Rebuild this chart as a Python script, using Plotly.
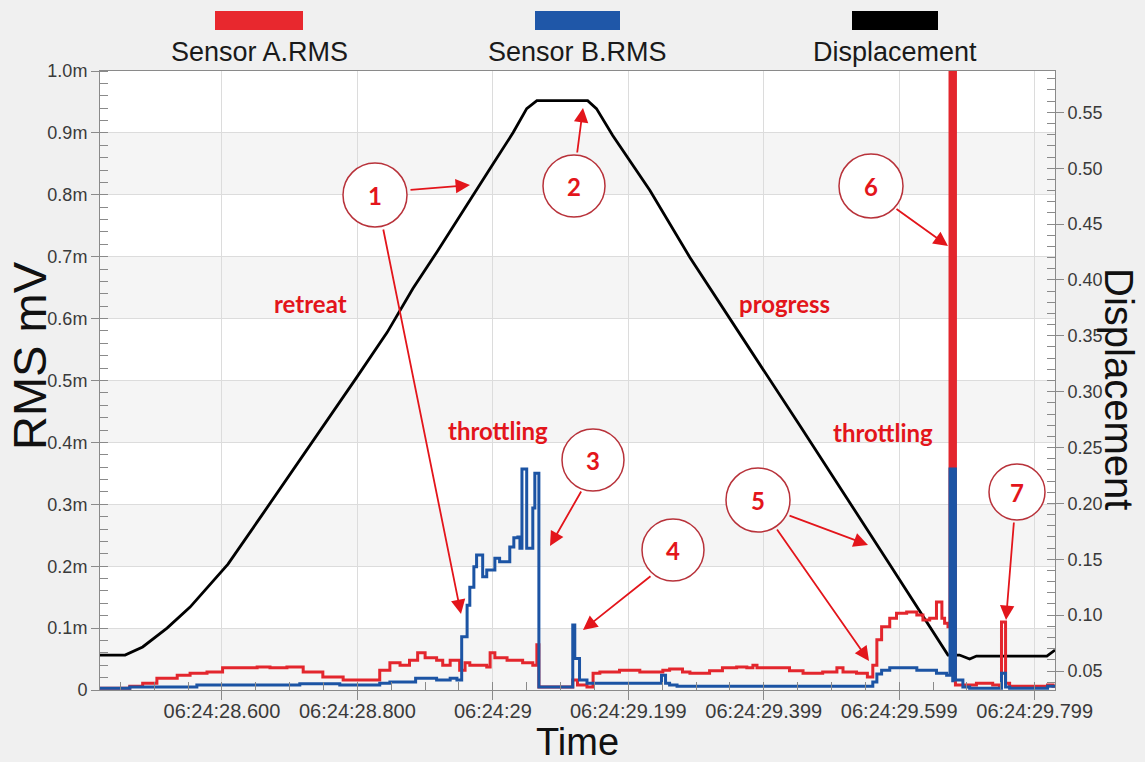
import plotly.graph_objects as go

# ---------------- data ----------------
time_a = [28.420, 28.449, 28.464, 28.483, 28.504, 28.534, 28.553, 28.578, 28.601, 28.627,
          28.652, 28.671, 28.696, 28.720, 28.749, 28.779, 28.829, 28.833, 28.848, 28.863,
          28.877, 28.889, 28.900, 28.917, 28.926, 28.937, 28.951, 28.959, 28.966, 28.991,
          28.996, 29.003, 29.021, 29.035, 29.044, 29.059, 29.065, 29.068, 29.118, 29.125,
          29.139, 29.148, 29.158, 29.187, 29.217, 29.251, 29.261, 29.280, 29.291, 29.320,
          29.339, 29.360, 29.375, 29.384, 29.390, 29.419, 29.438, 29.458, 29.487, 29.508,
          29.517, 29.537, 29.553, 29.561, 29.567, 29.574, 29.586, 29.596, 29.611, 29.626,
          29.635, 29.645, 29.655, 29.663, 29.667, 29.672, 29.675, 29.679, 29.6791, 29.683,
          29.714, 29.738, 29.748, 29.751, 29.757, 29.763, 29.819, 29.827, 29.830]
rms_a = [0.003, 0.003, 0.006, 0.011, 0.019, 0.024, 0.027, 0.029, 0.036, 0.036,
         0.037, 0.036, 0.037, 0.029, 0.021, 0.016, 0.016, 0.032, 0.044, 0.040,
         0.048, 0.060, 0.052, 0.048, 0.040, 0.048, 0.032, 0.044, 0.040, 0.037,
         0.060, 0.052, 0.048, 0.048, 0.044, 0.040, 0.073, 0.005, 0.016, 0.008,
         0.005, 0.027, 0.029, 0.032, 0.029, 0.032, 0.034, 0.029, 0.027, 0.031,
         0.036, 0.037, 0.036, 0.040, 0.036, 0.036, 0.031, 0.027, 0.029, 0.036,
         0.029, 0.027, 0.021, 0.040, 0.081, 0.102, 0.116, 0.124, 0.126, 0.121,
         0.113, 0.116, 0.142, 0.116, 0.108, 0.102, 1.300, 0.360, 1.300, 0.008,
         0.011, 0.008, 0.006, 0.110, 0.011, 0.006, 0.008, 0.006, 0.006]

time_b = [28.420, 28.464, 28.563, 28.715, 28.774, 28.833, 28.848, 28.886, 28.917, 28.937,
          28.947, 28.954, 28.962, 28.966, 28.972, 28.976, 28.985, 28.991, 29.003, 29.010,
          29.025, 29.031, 29.037, 29.040, 29.043, 29.050, 29.059, 29.062, 29.068, 29.118,
          29.121, 29.128, 29.139, 29.249, 29.255, 29.261, 29.272, 29.561, 29.567, 29.574,
          29.586, 29.626, 29.655, 29.670, 29.675, 29.679, 29.6791, 29.683, 29.694, 29.704,
          29.751, 29.757, 29.763, 29.819, 29.830]
rms_b = [0.003, 0.005, 0.008, 0.010, 0.008, 0.011, 0.013, 0.019, 0.016, 0.019,
         0.016, 0.086, 0.137, 0.166, 0.199, 0.218, 0.183, 0.194, 0.213, 0.207,
         0.231, 0.246, 0.247, 0.229, 0.357, 0.229, 0.294, 0.350, 0.005, 0.105,
         0.051, 0.016, 0.011, 0.024, 0.011, 0.008, 0.006, 0.013, 0.026, 0.032,
         0.036, 0.032, 0.027, 0.024, 0.357, 0.015, 0.357, 0.016, 0.005, 0.003,
         0.027, 0.005, 0.003, 0.006, 0.006]

time_d = [28.420, 28.457, 28.483, 28.519, 28.553, 28.582, 28.609, 28.656, 28.715, 28.800,
          28.844, 28.882, 28.917, 28.956, 28.996, 29.030, 29.050, 29.065, 29.140, 29.153,
          29.177, 29.232, 29.291, 29.369, 29.453, 29.582, 29.672, 29.689, 29.704, 29.714,
          29.818, 29.830]
disp = [0.0643, 0.0643, 0.0715, 0.0884, 0.1072, 0.1269, 0.1457, 0.1868, 0.2386, 0.3137,
        0.3531, 0.3924, 0.4246, 0.4621, 0.4997, 0.5319, 0.5533, 0.5604, 0.5604, 0.5533,
        0.5292, 0.4800, 0.4201, 0.3477, 0.2699, 0.1492, 0.0643, 0.0643, 0.0607, 0.0634,
        0.0634, 0.0688]

x_tickvals = [28.6, 28.8, 29.0, 29.2, 29.4, 29.6, 29.8]
x_ticktext = ["06:24:28.600", "06:24:28.800", "06:24:29", "06:24:29.199",
              "06:24:29.399", "06:24:29.599", "06:24:29.799"]
rms_tickvals = [0.0, 0.1, 0.2, 0.3, 0.4, 0.5, 0.6, 0.7, 0.8, 0.9, 1.0]
rms_ticktext = ["0", "0.1m", "0.2m", "0.3m", "0.4m", "0.5m", "0.6m", "0.7m", "0.8m", "0.9m", "1.0m"]
disp_tickvals = [0.05, 0.10, 0.15, 0.20, 0.25, 0.30, 0.35, 0.40, 0.45, 0.50, 0.55]
disp_ticktext = ["0.05", "0.10", "0.15", "0.20", "0.25", "0.30", "0.35", "0.40", "0.45", "0.50", "0.55"]

series_names = ["Sensor A.RMS", "Sensor B.RMS", "Displacement"]
notes = ["retreat", "progress", "throttling", "throttling"]

# ---------------- layout constants ----------------
W, H = 1145, 762
L, R, T, B = 100, 1055, 71, 690
X_RANGE = [28.420, 29.830]
RMS_RANGE = [0.0, 1.0]
DISP_RANGE = [0.033, 0.587]
RED = "#e3262d"
BLUE = "#1c54a4"
ANN_RED = "#e3151b"
CIRC = "#b8323a"
FONT = "Liberation Sans, Arial, sans-serif"
NOTE_FONT = "Lato, Liberation Sans, Arial, sans-serif"


def px_t(px):
    return X_RANGE[0] + (px - L) / (R - L) * (X_RANGE[1] - X_RANGE[0])


def px_v(py):
    return RMS_RANGE[0] + (B - py) / (B - T) * (RMS_RANGE[1] - RMS_RANGE[0])


def pap_x(px):
    return (px - L) / (R - L)


def pap_y(py):
    return (B - py) / (B - T)


fig = go.Figure()
fig.add_trace(go.Scatter(x=time_d, y=disp, name=series_names[2], mode="lines",
                         line=dict(color="#000000", width=2.8), yaxis="y"))
fig.add_trace(go.Scatter(x=time_a, y=rms_a, name=series_names[0], mode="lines",
                         line=dict(color=RED, width=3, shape="hv"), yaxis="y2"))
fig.add_trace(go.Scatter(x=time_b, y=rms_b, name=series_names[1], mode="lines",
                         line=dict(color=BLUE, width=3, shape="hv"), yaxis="y2"))

shapes = []
# alternating bands
for k in range(0, 10, 2):
    shapes.append(dict(type="rect", xref="paper", yref="y2", x0=0, x1=1,
                       y0=k * 0.1, y1=(k + 1) * 0.1, fillcolor="#f5f5f5",
                       line=dict(width=0), layer="below"))

# legend swatches
for (x0, x1, col) in [(215, 303, "#e8282e"), (535, 620, "#1f57a8"), (852, 938, "#000000")]:
    shapes.append(dict(type="rect", xref="paper", yref="paper",
                       x0=pap_x(x0), x1=pap_x(x1), y0=pap_y(30), y1=pap_y(11),
                       fillcolor=col, line=dict(width=0)))

# numbered circles
circles = [(375, 195, 32, "1"), (574, 186, 31, "2"), (593, 460, 31, "3"), (673, 550, 31, "4"),
           (758, 500, 32, "5"), (871, 186, 32, "6"), (1017, 492, 28, "7")]
annotations = []
for cx, cy, r, lab in circles:
    shapes.append(dict(type="circle", xref="x", yref="y2", xsizemode="pixel", ysizemode="pixel",
                       xanchor=px_t(cx), yanchor=px_v(cy), x0=-r, x1=r, y0=-r, y1=r,
                       fillcolor="white", line=dict(color=CIRC, width=1.5), layer="above"))
    annotations.append(dict(x=px_t(cx), y=px_v(cy), xref="x", yref="y2", text="<b>%s</b>" % lab,
                            showarrow=False, font=dict(family=NOTE_FONT, size=24, color=ANN_RED)))

# arrows (tail -> tip)
arrows = [((409, 190), (470, 185)), ((383, 228), (461, 614)), ((577, 154), (583, 108)),
          ((582, 490), (550, 546)), ((652, 575), (583, 630)), ((788, 515), (868, 545)),
          ((776, 528), (869, 661)), ((895, 208), (948, 246)), ((1014, 521), (1006, 620))]
for (tx, ty), (hx, hy) in arrows:
    annotations.append(dict(x=px_t(hx), y=px_v(hy), xref="x", yref="y2",
                            ax=px_t(tx), ay=px_v(ty), axref="x", ayref="y2",
                            text="", showarrow=True, arrowhead=2, arrowsize=1.6,
                            arrowwidth=1.8, arrowcolor=ANN_RED, standoff=0))

# notes
for (nx, ny), txt in zip([(310, 303), (784, 303), (498, 430), (883, 432)], notes):
    annotations.append(dict(x=px_t(nx), y=px_v(ny), xref="x", yref="y2", text="<b>%s</b>" % txt,
                            showarrow=False, font=dict(family=NOTE_FONT, size=24, color=ANN_RED)))

# legend labels
for cxp, name in zip([259, 577, 895], series_names):
    annotations.append(dict(x=pap_x(cxp), y=pap_y(52), xref="paper", yref="paper", text=name,
                            showarrow=False, xanchor="center", yanchor="middle",
                            font=dict(family=FONT, size=27, color="#1a1a1a")))

# axis titles
annotations.append(dict(x=pap_x(29), y=pap_y(356), xref="paper", yref="paper", text="RMS mV",
                        textangle=-90, showarrow=False, xanchor="center", yanchor="middle",
                        font=dict(family=FONT, size=47, color="#111111")))
annotations.append(dict(x=pap_x(1119), y=pap_y(389), xref="paper", yref="paper", text="Displacement",
                        textangle=90, showarrow=False, xanchor="center", yanchor="middle",
                        font=dict(family=FONT, size=40, color="#111111")))
annotations.append(dict(x=pap_x(577), y=pap_y(742), xref="paper", yref="paper", text="Time",
                        showarrow=False, xanchor="center", yanchor="middle",
                        font=dict(family=FONT, size=38, color="#111111")))

AX = "#8a8a8a"
GRID = "#dcdcdc"
TICKF = dict(family=FONT, size=18, color="#3a3a3a")
XTICKF = dict(family=FONT, size=20, color="#3a3a3a")

fig.update_layout(
    width=W, height=H,
    margin=dict(l=L, r=W - R, t=T, b=H - B, pad=0),
    paper_bgcolor="#f0f0f0", plot_bgcolor="#ffffff",
    showlegend=False,
    shapes=shapes, annotations=annotations,
    xaxis=dict(range=X_RANGE, tickvals=x_tickvals, ticktext=x_ticktext, tickfont=XTICKF,
               showgrid=True, gridcolor=GRID, gridwidth=1, zeroline=False,
               showline=True, linecolor=AX, linewidth=1, mirror=True,
               ticks="outside", ticklen=9, tickcolor=AX, ticklabelstandoff=-6,
               minor=dict(dtick=0.05, tick0=28.6, ticks="inside", ticklen=8, tickcolor=AX, showgrid=False)),
    yaxis=dict(range=DISP_RANGE, side="right", tickvals=disp_tickvals, ticktext=disp_ticktext,
               tickfont=TICKF, showgrid=False, zeroline=False,
               showline=True, linecolor=AX, linewidth=1,
               ticks="outside", ticklen=8, tickcolor=AX,
               minor=dict(dtick=0.01, tick0=0.05, ticks="inside", ticklen=8, tickcolor=AX, showgrid=False)),
    yaxis2=dict(range=RMS_RANGE, side="left", overlaying="y", tickvals=rms_tickvals,
                ticktext=rms_ticktext, tickfont=TICKF, showgrid=True, gridcolor=GRID,
                zeroline=False, showline=True, linecolor=AX, linewidth=1,
                ticks="outside", ticklen=8, tickcolor=AX,
                minor=dict(dtick=0.02, tick0=0, ticks="inside", ticklen=8, tickcolor=AX, showgrid=False)),
)

fig.write_html("out.html", config={"displayModeBar": False},
               post_script="document.body.style.margin='0';")
